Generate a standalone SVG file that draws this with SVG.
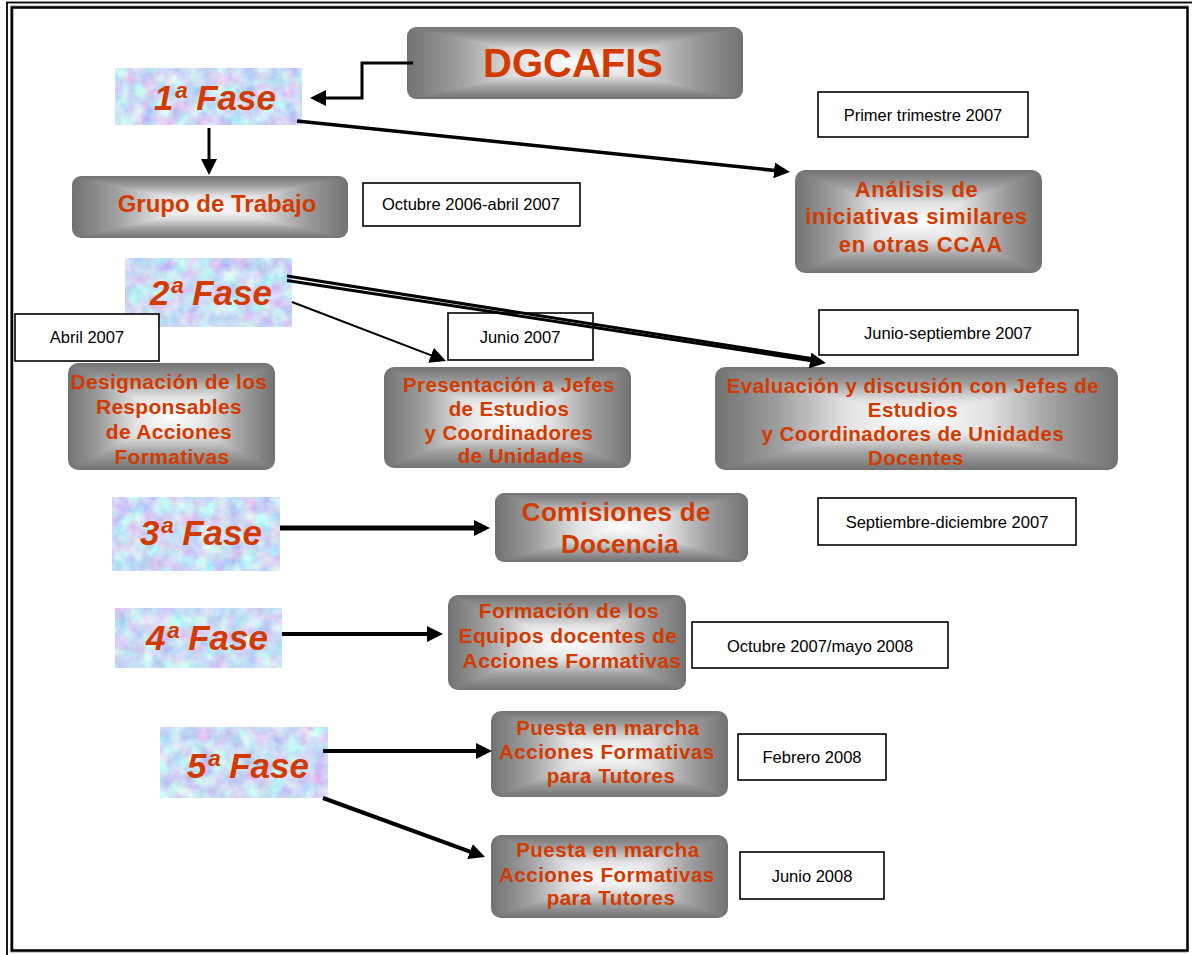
<svg xmlns="http://www.w3.org/2000/svg" width="1192" height="955" viewBox="0 0 1192 955">
  <defs>
    <style>
      .bt { font-family: "Liberation Sans", Arial, sans-serif; font-weight: bold; fill: #D23A00; text-anchor: middle; font-size: 21px; letter-spacing: 0.3px; }
      .ft { font-family: "Liberation Sans", Arial, sans-serif; font-weight: bold; font-style: italic; fill: #D23A00; text-anchor: middle; font-size: 35px; }
      .dt { font-family: "Liberation Sans", Arial, sans-serif; fill: #000; text-anchor: middle; font-size: 16.5px; }
      .date { fill: #fff; stroke: #000; stroke-width: 1.6; }
      .shade { fill: url(#boxShade); }
      .fase { fill: #cdd9f4; filter: url(#tissue); }
      .cn { fill: none; stroke: #000; stroke-linecap: butt; stroke-linejoin: miter; marker-end: url(#head); }
      .frame { fill: none; stroke: #000; }
    </style>

    <!-- grey "from centre" fill: four triangles, each shaded from its edge toward the middle -->
    <linearGradient id="gT" x1="0" y1="0" x2="0" y2="1">
      <stop offset="0" stop-color="#727272"/>
      <stop offset="0.3" stop-color="#9c9c9c"/>
      <stop offset="0.65" stop-color="#e2e2e2"/>
      <stop offset="1" stop-color="#ffffff"/>
    </linearGradient>
    <linearGradient id="gB" href="#gT" x1="0" y1="1" x2="0" y2="0"/>
    <linearGradient id="gL" href="#gT" x1="0" y1="0" x2="1" y2="0"/>
    <linearGradient id="gR" href="#gT" x1="1" y1="0" x2="0" y2="0"/>
    <pattern id="boxShade" patternContentUnits="objectBoundingBox" width="1" height="1">
      <rect x="0" y="0" width="1" height="1" fill="#b0b0b0"/>
      <polygon points="0,0 1,0 0.5,0.5" fill="url(#gT)" shape-rendering="crispEdges"/>
      <polygon points="0,1 1,1 0.5,0.5" fill="url(#gB)" shape-rendering="crispEdges"/>
      <polygon points="0,0 0,1 0.5,0.5" fill="url(#gL)" shape-rendering="crispEdges"/>
      <polygon points="1,0 1,1 0.5,0.5" fill="url(#gR)" shape-rendering="crispEdges"/>
    </pattern>

    <!-- pale blue tissue texture for the phase labels -->
    <filter id="tissue" x="0" y="0" width="1" height="1" color-interpolation-filters="sRGB">
      <feTurbulence type="fractalNoise" baseFrequency="0.07" numOctaves="3" seed="7" result="n"/>
      <feColorMatrix in="n" type="matrix" values="0.4 0 0 0 0.6  0 0.45 0 0 0.64  0 0 0.08 0 0.92  0 0 0 0 1" result="c"/>
      <feComposite in="c" in2="SourceGraphic" operator="in"/>
    </filter>

    <marker id="head" markerUnits="userSpaceOnUse" viewBox="0 0 16 16" markerWidth="16" markerHeight="16" refX="8" refY="8" orient="auto">
      <path d="M0,0 L16,8 L0,16 z" fill="#000"/>
    </marker>
  </defs>

  <rect width="1192" height="955" fill="#fff"/>

  <!-- page frame -->
  <g id="frame">
    <rect class="frame" x="7" y="2.5" width="1200" height="1000" stroke-width="1.8"/>
    <rect x="10.5" y="6" width="1177" height="946" fill="none" stroke="#9a9a9a" stroke-width="1"/>
    <rect class="frame" x="12" y="7.5" width="1175.5" height="943" stroke-width="2.5"/>
  </g>

  <!-- phase labels -->
  <g id="fase1">
    <rect class="fase" x="115" y="68" width="187" height="57"/>
    <text class="ft" x="215" y="110">1ª Fase</text>
  </g>
  <g id="fase2">
    <rect class="fase" x="125" y="258" width="167" height="69"/>
    <text class="ft" x="211" y="305">2ª Fase</text>
  </g>
  <g id="fase3">
    <rect class="fase" x="112" y="497" width="168" height="74"/>
    <text class="ft" x="201" y="545">3ª Fase</text>
  </g>
  <g id="fase4">
    <rect class="fase" x="115" y="608" width="167" height="60"/>
    <text class="ft" x="207" y="650">4ª Fase</text>
  </g>
  <g id="fase5">
    <rect class="fase" x="160" y="727" width="168" height="71"/>
    <text class="ft" x="248" y="778">5ª Fase</text>
  </g>

  <!-- shaded activity boxes -->
  <g id="dgcafis">
    <rect class="shade" x="407" y="27" width="336" height="72" rx="9"/>
    <text class="bt" x="573" y="77" style="font-size:40px;letter-spacing:0">DGCAFIS</text>
  </g>
  <g id="grupo">
    <rect class="shade" x="72" y="176" width="276" height="62" rx="9"/>
    <text class="bt" x="217" y="212" style="font-size:24px;letter-spacing:0">Grupo de Trabajo</text>
  </g>
  <g id="analisis">
    <rect class="shade" x="795" y="170" width="247" height="103" rx="10"/>
    <text class="bt" style="font-size:22px;letter-spacing:0.7px">
      <tspan x="920" y="197">Análisis de</tspan>
      <tspan x="920" y="224">iniciativas similares</tspan>
      <tspan x="921" y="252">en otras CCAA</tspan>
    </text>
  </g>
  <g id="designacion">
    <rect class="shade" x="68" y="363" width="207" height="107" rx="10"/>
    <text class="bt">
      <tspan x="172" y="389">Designación de los</tspan>
      <tspan x="172" y="414">Responsables</tspan>
      <tspan x="172" y="439">de Acciones</tspan>
      <tspan x="172" y="464">Formativas</tspan>
    </text>
  </g>
  <g id="presentacion">
    <rect class="shade" x="384" y="367" width="247" height="101" rx="10"/>
    <text class="bt" style="font-size:20.5px;letter-spacing:0.4px">
      <tspan x="512" y="392">Presentación a Jefes</tspan>
      <tspan x="512" y="416">de Estudios</tspan>
      <tspan x="512" y="440">y Coordinadores</tspan>
      <tspan x="521" y="463">de Unidades</tspan>
    </text>
  </g>
  <g id="evaluacion">
    <rect class="shade" x="715" y="367" width="403" height="103" rx="10"/>
    <text class="bt" style="font-size:20.5px;letter-spacing:0.45px">
      <tspan x="916" y="393">Evaluación y discusión con Jefes de</tspan>
      <tspan x="916" y="417">Estudios</tspan>
      <tspan x="916" y="441">y Coordinadores de Unidades</tspan>
      <tspan x="916" y="465">Docentes</tspan>
    </text>
  </g>
  <g id="comisiones">
    <rect class="shade" x="495" y="493" width="253" height="69" rx="9"/>
    <text class="bt" style="font-size:26px;letter-spacing:0.3px">
      <tspan x="620" y="521">Comisiones de</tspan>
      <tspan x="620" y="553">Docencia</tspan>
    </text>
  </g>
  <g id="formacion">
    <rect class="shade" x="448" y="595" width="238" height="95" rx="10"/>
    <text class="bt" style="letter-spacing:0.4px">
      <tspan x="572" y="618">Formación de los</tspan>
      <tspan x="571" y="643">Equipos docentes de</tspan>
      <tspan x="572" y="668">Acciones Formativas</tspan>
    </text>
  </g>
  <g id="puesta1">
    <rect class="shade" x="491" y="711" width="237" height="86" rx="10"/>
    <text class="bt" style="font-size:20.5px;letter-spacing:0.5px">
      <tspan x="611" y="735">Puesta en marcha</tspan>
      <tspan x="610" y="759">Acciones Formativas</tspan>
      <tspan x="611" y="783">para Tutores</tspan>
    </text>
  </g>
  <g id="puesta2">
    <rect class="shade" x="491" y="835" width="237" height="83" rx="10"/>
    <text class="bt" style="font-size:20.5px;letter-spacing:0.5px">
      <tspan x="611" y="857">Puesta en marcha</tspan>
      <tspan x="610" y="882">Acciones Formativas</tspan>
      <tspan x="611" y="905">para Tutores</tspan>
    </text>
  </g>

  <!-- date boxes -->
  <g id="d-primer">
    <rect class="date" x="818" y="92" width="210" height="45"/>
    <text class="dt" x="923" y="121">Primer trimestre 2007</text>
  </g>
  <g id="d-octubre06">
    <rect class="date" x="363" y="183" width="217" height="43"/>
    <text class="dt" x="471" y="210">Octubre 2006-abril 2007</text>
  </g>
  <g id="d-abril07">
    <rect class="date" x="15" y="314" width="144" height="47"/>
    <text class="dt" x="87" y="343">Abril 2007</text>
  </g>
  <g id="d-junio07">
    <rect class="date" x="448" y="313" width="145" height="47"/>
    <text class="dt" x="520" y="343">Junio 2007</text>
  </g>
  <g id="d-juniosep07">
    <rect class="date" x="819" y="310" width="259" height="45"/>
    <text class="dt" x="948" y="339">Junio-septiembre 2007</text>
  </g>
  <g id="d-sepdic07">
    <rect class="date" x="818" y="498" width="258" height="47"/>
    <text class="dt" x="947" y="528">Septiembre-diciembre 2007</text>
  </g>
  <g id="d-oct07may08">
    <rect class="date" x="692" y="622" width="256" height="46"/>
    <text class="dt" x="820" y="652">Octubre 2007/mayo 2008</text>
  </g>
  <g id="d-febrero08">
    <rect class="date" x="738" y="734" width="148" height="46"/>
    <text class="dt" x="812" y="763">Febrero 2008</text>
  </g>
  <g id="d-junio08">
    <rect class="date" x="740" y="852" width="144" height="47"/>
    <text class="dt" x="812" y="882">Junio 2008</text>
  </g>

  <!-- connectors -->
  <g id="connectors">
    <polyline class="cn" points="413,63 362,63 362,98 318,98" stroke-width="3"/>
    <line class="cn" x1="209" y1="128" x2="209" y2="167" stroke-width="3"/>
    <line class="cn" x1="297" y1="121" x2="782" y2="171.2" stroke-width="3.5"/>
    <line class="cn" x1="292" y1="302" x2="438.5" y2="358.1" stroke-width="2"/>
    <line x1="287" y1="276" x2="818" y2="359.6" stroke="#000" stroke-width="3"/>
    <line class="cn" x1="287" y1="280.5" x2="818" y2="361.7" stroke-width="3"/>
    <line class="cn" x1="280" y1="528" x2="482" y2="528" stroke-width="5"/>
    <line class="cn" x1="282" y1="634" x2="435" y2="634" stroke-width="4"/>
    <line class="cn" x1="323" y1="751" x2="484" y2="751" stroke-width="4"/>
    <line class="cn" x1="323" y1="798" x2="477.5" y2="854.3" stroke-width="4"/>
  </g>
</svg>
